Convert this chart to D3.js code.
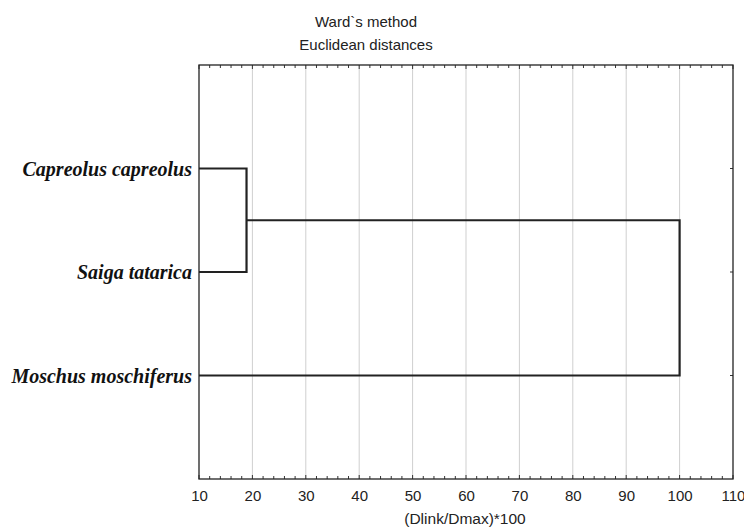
<!DOCTYPE html>
<html>
<head>
<meta charset="utf-8">
<script src="https://cdn.jsdelivr.net/npm/d3@7"></script>
<style>
  body { margin: 0; background: #fff; }
  svg { display: block; }
</style>
</head>
<body>
<svg id="chart"></svg>
<script>
let width = 744
let height = 529

// leaves, top to bottom
let leaves = ["Capreolus capreolus", "Saiga tatarica", "Moschus moschiferus"]
// joins: [first, second, linkage distance]
let joins = [
  ["Capreolus capreolus", "Saiga tatarica", 18.9],
  ["Capreolus capreolus+Saiga tatarica", "Moschus moschiferus", 100]
]
let xTicks = [10, 20, 30, 40, 50, 60, 70, 80, 90, 100, 110]

let plotLeft = 199, plotRight = 733, plotTop = 65, plotBottom = 479

let svg = d3.select("#chart")
  .attr("width", width)
  .attr("height", height)

let xScale = d3.scaleLinear().domain([10, 110]).range([plotLeft, plotRight])
let yScale = d3.scalePoint().domain(["", ...leaves, " "]).range([plotTop, plotBottom])

// gridlines
svg.append("g")
  .selectAll("line")
  .data(xTicks.slice(1, -1))
  .enter()
  .append("line")
  .attr("x1", d => xScale(d))
  .attr("x2", d => xScale(d))
  .attr("y1", plotTop)
  .attr("y2", plotBottom)
  .attr("stroke", "#cfcfcf")
  .attr("stroke-width", 1)

// bottom axis with labels
let xAxis = d3.axisBottom(xScale)
  .tickValues(xTicks)
  .tickSize(0)
  .tickPadding(11)
svg.append("g")
  .attr("transform", "translate(0," + plotBottom + ")")
  .call(xAxis)
  .call(g => g.select(".domain").remove())
  .selectAll("text")
  .attr("font-family", "Liberation Sans, Arial, sans-serif")
  .attr("font-size", "15px")
  .attr("fill", "#222")

// minor ticks (inside) top and bottom
let minor = d3.range(10, 110.01, 2)
svg.append("g")
  .selectAll("line")
  .data(minor)
  .enter()
  .append("line")
  .attr("x1", d => xScale(d))
  .attr("x2", d => xScale(d))
  .attr("y1", plotBottom)
  .attr("y2", d => plotBottom - (d % 10 === 0 ? 4 : 3))
  .attr("stroke", "#333")
svg.append("g")
  .selectAll("line")
  .data(minor)
  .enter()
  .append("line")
  .attr("x1", d => xScale(d))
  .attr("x2", d => xScale(d))
  .attr("y1", plotTop)
  .attr("y2", d => plotTop + (d % 10 === 0 ? 4 : 3))
  .attr("stroke", "#333")

// right ticks at leaves
svg.append("g")
  .selectAll("line")
  .data(leaves)
  .enter()
  .append("line")
  .attr("x1", plotRight)
  .attr("x2", plotRight - 3)
  .attr("y1", d => yScale(d))
  .attr("y2", d => yScale(d))
  .attr("stroke", "#333")

// frame
svg.append("rect")
  .attr("x", plotLeft)
  .attr("y", plotTop)
  .attr("width", plotRight - plotLeft)
  .attr("height", plotBottom - plotTop)
  .attr("fill", "none")
  .attr("stroke", "#222")
  .attr("stroke-width", 1.3)

// leaf labels
svg.append("g")
  .selectAll("text")
  .data(leaves)
  .enter()
  .append("text")
  .attr("x", plotLeft - 7)
  .attr("y", d => yScale(d))
  .attr("dy", "0.35em")
  .attr("text-anchor", "end")
  .attr("font-family", "Liberation Serif, Times New Roman, serif")
  .attr("font-style", "italic")
  .attr("font-weight", "bold")
  .attr("font-size", "20px")
  .attr("fill", "#111")
  .text(d => d)

// dendrogram links
let pos = {}
leaves.forEach(l => { pos[l] = { x: 10, y: yScale(l) } })
let linkPath = d3.path()
joins.forEach(j => {
  let a = pos[j[0]], b = pos[j[1]], h = j[2]
  let xh = xScale(h)
  linkPath.moveTo(xScale(a.x), a.y)
  linkPath.lineTo(xh, a.y)
  linkPath.lineTo(xh, b.y)
  linkPath.lineTo(xScale(b.x), b.y)
  pos[j[0] + "+" + j[1]] = { x: h, y: (a.y + b.y) / 2 }
})
svg.append("path")
  .attr("d", linkPath.toString())
  .attr("fill", "none")
  .attr("stroke", "#222")
  .attr("stroke-width", 2.2)

// titles
let titles = ["Ward`s method", "Euclidean distances"]
svg.append("g")
  .selectAll("text")
  .data(titles)
  .enter()
  .append("text")
  .attr("x", 366)
  .attr("y", (d, i) => 27 + i * 23)
  .attr("text-anchor", "middle")
  .attr("font-family", "Liberation Sans, Arial, sans-serif")
  .attr("font-size", "15px")
  .attr("fill", "#222")
  .text(d => d)

svg.append("text")
  .attr("x", 465)
  .attr("y", 524)
  .attr("text-anchor", "middle")
  .attr("font-family", "Liberation Sans, Arial, sans-serif")
  .attr("font-size", "15.5px")
  .attr("fill", "#222")
  .text("(Dlink/Dmax)*100")
</script>
</body>
</html>
